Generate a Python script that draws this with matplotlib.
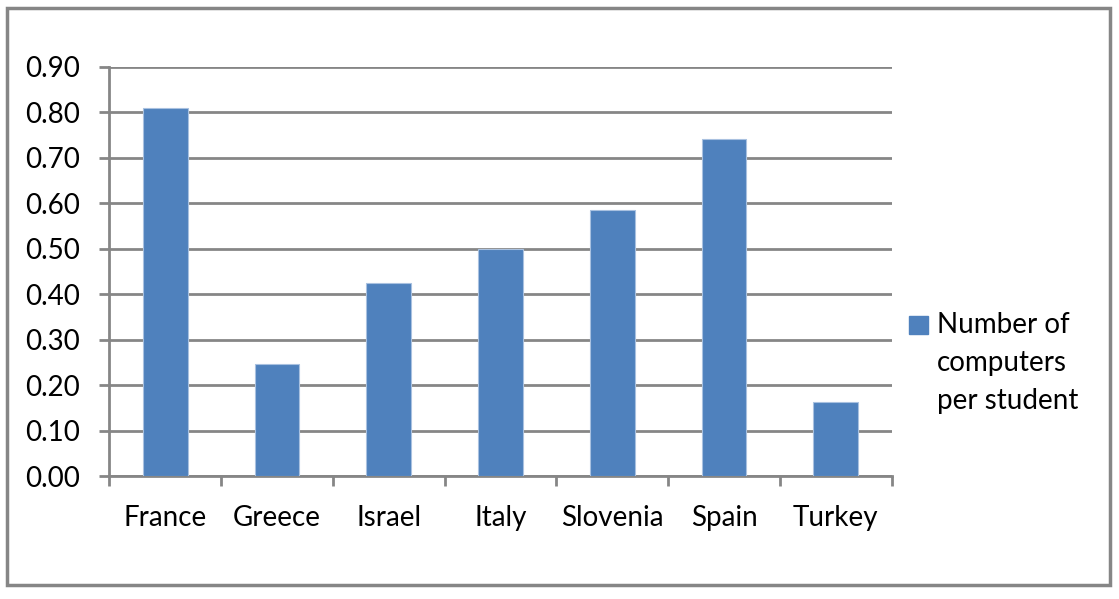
import matplotlib.pyplot as plt
import numpy as np
from matplotlib.patches import Rectangle

countries = ["France", "Greece", "Israel", "Italy", "Slovenia", "Spain", "Turkey"]
computers_per_student = [0.81, 0.247, 0.425, 0.50, 0.585, 0.741, 0.163]
series_label = "Number of\ncomputers\nper student"
y_ticks = [0.0, 0.1, 0.2, 0.3, 0.4, 0.5, 0.6, 0.7, 0.8, 0.9]

plt.rcParams["font.family"] = ["Lato", "DejaVu Sans"]
bar_color = "#4f81bd"
grid_color = "#868686"
fsize = 20

fig = plt.figure(figsize=(11.19, 5.99), dpi=100)
ax = fig.add_axes([0.0977, 0.2048, 0.6992, 0.6838])

x = np.arange(len(countries))
ax.bar(x, computers_per_student, width=0.4, color=bar_color,
       edgecolor="#a9c1e0", linewidth=0.8, zorder=3)

ax.set_xlim(-0.5, len(countries) - 0.5)
ax.set_ylim(0.0, 0.9)
ax.set_yticks(y_ticks, [f"{v:.2f}" for v in y_ticks])
ax.set_xticks(x, countries)
ax.set_xticks(np.arange(len(countries) + 1) - 0.5, minor=True)

ax.yaxis.grid(True, color=grid_color, linewidth=2.0, zorder=0)
ax.set_axisbelow(True)
for side in ("top", "right"):
    ax.spines[side].set_visible(False)
for side in ("left", "bottom"):
    ax.spines[side].set_color(grid_color)
    ax.spines[side].set_linewidth(2.0)

ax.tick_params(axis="y", length=7, width=2.0, color=grid_color, pad=14,
               labelsize=fsize)
ax.tick_params(axis="x", which="major", length=0, pad=21, labelsize=fsize)
ax.tick_params(axis="x", which="minor", length=7, width=2.0, color=grid_color)

# legend drawn by hand so the marker sits on the first text line
fig.add_artist(Rectangle((909 / 1119, 1 - 334 / 599), 19 / 1119, 18 / 599,
                         transform=fig.transFigure, color=bar_color))
fig.text(937 / 1119, 1 - 312 / 599, series_label, fontsize=fsize,
         va="top", ha="left", linespacing=1.58)

# chart area border
fig.add_artist(Rectangle((7 / 1119, 14 / 599), 1103 / 1119, 577 / 599,
                         transform=fig.transFigure, fill=False,
                         edgecolor=grid_color, linewidth=2.5))

fig.savefig("out.png", dpi=100)
